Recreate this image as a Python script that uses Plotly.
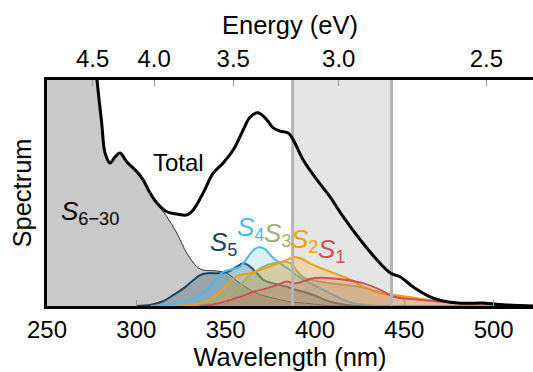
import plotly.graph_objects as go

# ---------------- data ----------------
total_wl = [275, 276, 277, 278, 280.6, 282.5, 285.3, 288.1, 290.9, 294.6, 300.3, 303.8, 307.7,
            311.5, 317.1, 322.7, 328.3, 331.8, 337.4, 343, 348.6, 354.2, 359.8, 363.7, 368.2,
            373.1, 376.6, 380.5, 385, 387.8, 393.4, 401.1, 408.5, 415.8, 425.4, 434.7, 442.2,
            447.8, 455, 466.1, 479.9, 494.1, 507.8, 522]
total_val = [160, 130, 110, 100, 81, 67.7, 63.3, 66, 67.7, 63.8, 59.4, 55.8, 50,
             45.6, 41.7, 40.7, 40.3, 42.5, 50, 58.8, 63.3, 69, 77.9, 83.6, 85.5,
             82.3, 78.8, 77.4, 76.5, 73.5, 64.6, 55.8, 48.2, 39.4, 29.2, 20.4, 14.6,
             12.8, 8.4, 3.5, 1.3, 1.3, 0.4, 0]

s630_wl = [250, 275, 276, 277, 278, 280.6, 282.5, 285.3, 288.1, 290.9, 294.6, 300.3, 303.8,
           307.7, 311.5, 317.1, 322.7, 328.3, 333.9, 337.4, 345, 350.7, 358.1, 367.5, 376.6,
           386, 395.5, 408.5, 420, 522]
s630_val = [160, 160, 130, 110, 100, 81, 67.7, 63.3, 66, 67.7, 63.8, 59.4, 55.8,
            49.9, 45.4, 39.5, 32.2, 23.3, 17.4, 15.9, 15.5, 14.5, 10, 5.6, 3.5,
            1.9, 1.2, 0.1, 0, 0]

s5_wl = [300, 307.7, 315.2, 320.8, 326.4, 332, 335.7, 339.5, 346.9, 351.6, 356.3, 360, 363.7,
         367.5, 371.2, 376.8, 384.3, 387.8, 399, 408.5, 417.9, 425, 522]
s5_val = [0, 0.4, 2.2, 4.9, 7.8, 11.5, 13.7, 14.5, 14.5, 15.2, 17.4, 18.9, 17.4,
          14.5, 11.5, 10, 8.5, 7.5, 4.9, 1.9, 0.4, 0, 0]

s4_wl = [308, 315.2, 324.5, 332, 339.5, 345.1, 348.8, 354.4, 358.1, 361.9, 365.6, 368.4, 372.1,
         375.9, 380.5, 386.1, 388, 395.5, 404.8, 414.1, 421.4, 429.1, 436, 522]
s4_val = [0, 0.4, 1.6, 3.4, 7.1, 12.3, 15.2, 16.4, 17.4, 21.1, 24.8, 26, 25.2,
          21.8, 18.9, 15.9, 14.5, 10.8, 7.1, 3.4, 1.2, 0.4, 0, 0]

s3_wl = [332, 339.5, 348.8, 356.3, 363.7, 371.2, 376.8, 382.4, 386.1, 389.5, 393.4, 401.1,
         412.3, 425.4, 440.3, 447.8, 462.7, 481.4, 503.8, 515, 522]
s3_val = [0, 0.4, 3.4, 7.8, 13.7, 17.4, 18.9, 19.6, 19, 15.9, 12.8, 11,
          9.7, 8.4, 5.3, 4.1, 2.7, 1.3, 0.4, 0, 0]

s2_wl = [322, 328.3, 337.6, 345.1, 350.7, 354.4, 358.1, 363.7, 369.3, 376.8, 384.3, 388,
         391.7, 399.2, 408.5, 417.9, 427.2, 436.6, 444, 451.5, 462.7, 470.2, 490, 510, 522]
s2_val = [0, 0.4, 1.6, 4.9, 9.3, 12.3, 13.7, 14.5, 15.9, 18.1, 20.4, 21.7,
          21.1, 18.1, 15.2, 12.3, 8.5, 5.6, 4.9, 4.1, 2.7, 1.9, 0.8, 0.2, 0]

s1_wl = [335, 341.3, 350.7, 358.1, 365.6, 373.1, 378.7, 384.3, 388, 391.7, 399.2, 408.5,
         417.9, 427.2, 436.6, 444, 455.2, 466.4, 481.4, 498.2, 512, 522]
s1_val = [0, 0.4, 2.2, 4.1, 6.3, 7.8, 9.3, 10.8, 10, 10.5, 12.3, 12.3,
          11.5, 10, 7.1, 4.1, 3, 2.2, 1.3, 0.9, 0.2, 0]

band_ev = [3.2, 2.8]
wl_ticks = [250, 300, 350, 400, 450, 500]
ev_ticks = [4.5, 4.0, 3.5, 3.0, 2.5]
HC = 1239.84

# ---------------- styling ----------------
FONT = "Liberation Sans"
FS = 24
TFS = 25.5
LFS = 26
states = [
    ("S5", s5_wl, s5_val, "#1c4560", "rgba(28,69,96,0.28)"),
    ("S4", s4_wl, s4_val, "#4cb9f0", "rgba(76,185,240,0.22)"),
    ("S3", s3_wl, s3_val, "#a3ad7a", "rgba(163,173,122,0.30)"),
    ("S2", s2_wl, s2_val, "#f2a007", "rgba(242,160,7,0.22)"),
    ("S1", s1_wl, s1_val, "#d24e58", "rgba(210,78,88,0.18)"),
]

fig = go.Figure()

band_wl = [HC / e for e in band_ev]
fig.add_shape(type="rect", xref="x", yref="y domain", x0=band_wl[0], x1=band_wl[1],
              y0=0, y1=1, fillcolor="#e5e5e5", line_width=0, layer="below")

fig.add_trace(go.Scatter(x=s630_wl, y=s630_val, mode="lines", fill="tozeroy",
                         fillcolor="#c9c9c9", line=dict(color="black", width=0.8),
                         line_shape="spline", showlegend=False, hoverinfo="skip"))

for name, wl, val, col, fcol in states:
    fig.add_trace(go.Scatter(x=wl, y=val, mode="lines", fill="tozeroy", fillcolor=fcol,
                             line=dict(color=col, width=2), line_shape="spline",
                             showlegend=False, hoverinfo="skip"))

for w in band_wl:
    fig.add_trace(go.Scatter(x=[w, w], y=[0, 100], mode="lines",
                             line=dict(color="#b4b4b4", width=3),
                             showlegend=False, hoverinfo="skip"))

fig.add_trace(go.Scatter(x=total_wl, y=total_val, mode="lines",
                         line=dict(color="black", width=3), line_shape="spline",
                         showlegend=False, hoverinfo="skip"))

# top axis carrier (invisible trace)
fig.add_trace(go.Scatter(x=[250, 522], y=[0, 0], xaxis="x2", mode="lines",
                         line=dict(width=0), showlegend=False, hoverinfo="skip"))

# labels
fig.add_annotation(text="Total", x=323.5, y=63.5, showarrow=False,
                   font=dict(size=FS, color="black", family=FONT))
fig.add_annotation(text="<i>S</i><sub>6−30</sub>", x=274, y=41.5, showarrow=False,
                   font=dict(size=LFS, color="black", family=FONT))
label_pos = {"S5": (348.5, 27.5), "S4": (364.0, 34.5), "S3": (379.0, 31.5), "S2": (394, 29),
             "S1": (409, 24.5)}
for name, wl, val, col, fcol in states:
    lx, ly = label_pos[name]
    fig.add_annotation(text=f"<i>S</i><sub>{name[1]}</sub>", x=lx, y=ly, showarrow=False,
                       font=dict(size=LFS, color=col, family=FONT))

fig.update_layout(
    width=533, height=372,
    margin=dict(l=47, r=0, t=80, b=66),
    paper_bgcolor="white", plot_bgcolor="white",
    font=dict(family=FONT, size=FS, color="black"),
    xaxis=dict(range=[250, 522], tickvals=wl_ticks, ticks="inside", ticklen=6,
               tickcolor="#999999", tickwidth=1, showline=True, linecolor="black",
               linewidth=3, showgrid=False, zeroline=False,
               title=dict(text="Wavelength (nm)", standoff=4, font=dict(size=TFS)),
               tickfont=dict(size=FS)),
    xaxis2=dict(range=[250, 522], overlaying="x", side="top",
                tickvals=[HC / e for e in ev_ticks], ticktext=[f"{e:.1f}" for e in ev_ticks],
                ticks="inside", ticklen=6, tickcolor="#999999", tickwidth=1,
                showline=True, linecolor="black", linewidth=3, showgrid=False,
                zeroline=False, title=dict(text="Energy (eV)", standoff=4, font=dict(size=TFS)),
                tickfont=dict(size=FS)),
    yaxis=dict(range=[0, 100], showticklabels=False, ticks="", showline=True,
               linecolor="black", linewidth=3, showgrid=False, zeroline=False,
               title=dict(text="Spectrum", standoff=6, font=dict(size=TFS))),
)

fig.write_html("out.html")
